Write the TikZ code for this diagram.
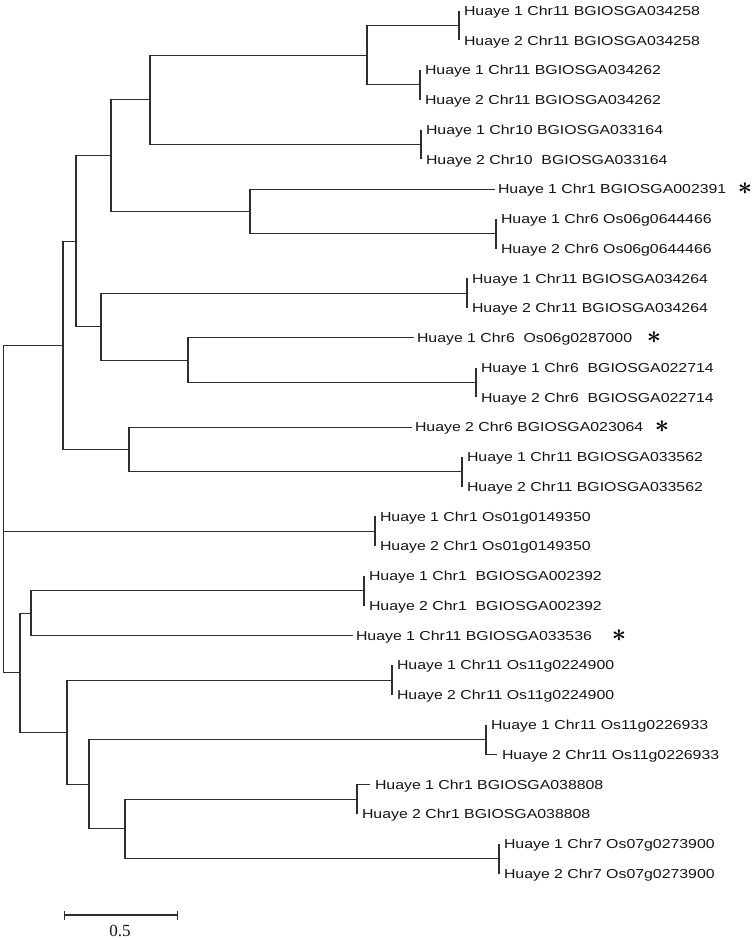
\documentclass[tikz,border=0pt]{standalone}
\usepackage{fontspec}
\setmainfont{Liberation Serif}
\newfontfamily\leaffont{Liberation Sans}[FakeStretch=1.22]
\usepackage{tikz}
\usetikzlibrary{arrows.meta}
\definecolor{TreeLine}{HTML}{2E2E2E}
\definecolor{TreeText}{HTML}{141414}

\begin{document}
\begin{tikzpicture}[
        x=1pt,y=-1pt,
        branch/.style={draw=TreeLine,line width=1.05pt},
        leaf/.style={anchor=west,inner xsep=5pt,inner ysep=0pt,outer sep=0pt,text height=9.4pt,text depth=0pt,text=TreeText,font=\leaffont\fontsize{13}{15}\selectfont},
        single/.style={leaf,inner xsep=3pt},
        flag/.style={inner sep=0pt,text=black,font=\fontsize{24}{28}\selectfont\boldmath}
      ]
        \useasboundingbox (0,0) rectangle (752,940);
        % leaves
        \node[leaf] (t258a) at (459,10.5) {Huaye 1 Chr11 BGIOSGA034258};
        \node[leaf] (t258b) at (459,40.3) {Huaye 2 Chr11 BGIOSGA034258};
        \node[leaf] (t262a) at (420,70.0) {Huaye 1 Chr11 BGIOSGA034262};
        \node[leaf] (t262b) at (420,99.8) {Huaye 2 Chr11 BGIOSGA034262};
        \node[leaf] (t164a) at (421,129.5) {Huaye 1 Chr10 BGIOSGA033164};
        \node[leaf] (t164b) at (421,159.3) {Huaye 2 Chr10~~BGIOSGA033164};
        \node[single] (t391) at (495,189.1) {Huaye 1 Chr1 BGIOSGA002391};
        \node[leaf] (t644a) at (496,218.8) {Huaye 1 Chr6 Os06g0644466};
        \node[leaf] (t644b) at (496,248.6) {Huaye 2 Chr6 Os06g0644466};
        \node[leaf] (t264a) at (467,278.3) {Huaye 1 Chr11 BGIOSGA034264};
        \node[leaf] (t264b) at (467,308.1) {Huaye 2 Chr11 BGIOSGA034264};
        \node[single] (t287) at (414,337.9) {Huaye 1 Chr6~~Os06g0287000};
        \node[leaf] (t714a) at (476,367.6) {Huaye 1 Chr6~~BGIOSGA022714};
        \node[leaf] (t714b) at (476,397.4) {Huaye 2 Chr6~~BGIOSGA022714};
        \node[single] (t064) at (412,427.1) {Huaye 2 Chr6 BGIOSGA023064};
        \node[leaf] (t562a) at (462,456.9) {Huaye 1 Chr11 BGIOSGA033562};
        \node[leaf] (t562b) at (462,486.7) {Huaye 2 Chr11 BGIOSGA033562};
        \node[leaf] (t149a) at (375,516.4) {Huaye 1 Chr1 Os01g0149350};
        \node[leaf] (t149b) at (375,546.2) {Huaye 2 Chr1 Os01g0149350};
        \node[leaf] (t392a) at (364,575.9) {Huaye 1 Chr1~~BGIOSGA002392};
        \node[leaf] (t392b) at (364,605.7) {Huaye 2 Chr1~~BGIOSGA002392};
        \node[single] (t536) at (353,635.5) {Huaye 1 Chr11 BGIOSGA033536};
        \node[leaf] (t224a) at (392,665.2) {Huaye 1 Chr11 Os11g0224900};
        \node[leaf] (t224b) at (392,695.0) {Huaye 2 Chr11 Os11g0224900};
        \node[leaf] (t226a) at (486,724.7) {Huaye 1 Chr11 Os11g0226933};
        \node[leaf] (t226b) at (497,754.5) {Huaye 2 Chr11 Os11g0226933};
        \node[leaf] (t808a) at (370,784.3) {Huaye 1 Chr1 BGIOSGA038808};
        \node[leaf] (t808b) at (357,814.0) {Huaye 2 Chr1 BGIOSGA038808};
        \node[leaf] (t273a) at (499,843.8) {Huaye 1 Chr7 Os07g0273900};
        \node[leaf] (t273b) at (499,873.5) {Huaye 2 Chr7 Os07g0273900};
        % marked genes
        \node[flag] (s391) at (745,189.1) {$\ast$};
        \node[flag] (s287) at (654,337.9) {$\ast$};
        \node[flag] (s064) at (662,427.1) {$\ast$};
        \node[flag] (s536) at (619,635.5) {$\ast$};
        % pairs
        \coordinate (c258) at (459,25.4);
        \coordinate (c262) at (420,84.9);
        \coordinate (c164) at (421,144.4);
        \coordinate (c644) at (496,233.7);
        \coordinate (c264) at (467,293.2);
        \coordinate (c714) at (476,382.5);
        \coordinate (c562) at (462,471.8);
        \coordinate (c149) at (375,531.3);
        \coordinate (c392) at (364,590.8);
        \coordinate (c224) at (392,680.1);
        \coordinate (c226) at (486,739.6);
        \coordinate (c808) at (357,799.1);
        \coordinate (c273) at (499,858.7);
        % inner nodes
        \coordinate (na) at (367,55.1);
        \coordinate (nb) at (150,99.8);
        \coordinate (nc) at (250,211.4);
        \coordinate (nd) at (111,155.6);
        \coordinate (ne) at (188,360.2);
        \coordinate (nf) at (101,326.7);
        \coordinate (ng) at (76,241.2);
        \coordinate (nh) at (129,449.5);
        \coordinate (ni) at (63,345.3);
        \coordinate (nj) at (31,613.1);
        \coordinate (nk) at (125,828.9);
        \coordinate (nl) at (89,784.3);
        \coordinate (nm) at (67,732.2);
        \coordinate (nn) at (20,672.7);
        \coordinate (root) at (3.5,531.3);
        % branches
        \draw[branch] (c258) |- (t258a) (c258) |- (t258b);
        \draw[branch] (c262) |- (t262a) (c262) |- (t262b);
        \draw[branch] (c164) |- (t164a) (c164) |- (t164b);
        \draw[branch] (c644) |- (t644a) (c644) |- (t644b);
        \draw[branch] (c264) |- (t264a) (c264) |- (t264b);
        \draw[branch] (c714) |- (t714a) (c714) |- (t714b);
        \draw[branch] (c562) |- (t562a) (c562) |- (t562b);
        \draw[branch] (c149) |- (t149a) (c149) |- (t149b);
        \draw[branch] (c392) |- (t392a) (c392) |- (t392b);
        \draw[branch] (c224) |- (t224a) (c224) |- (t224b);
        \draw[branch] (c226) |- (t226a) (c226) |- (t226b);
        \draw[branch] (c808) |- (t808a) (c808) |- (t808b);
        \draw[branch] (c273) |- (t273a) (c273) |- (t273b);
        \draw[branch] (na) |- (c258) (na) |- (c262);
        \draw[branch] (nb) |- (na) (nb) |- (c164);
        \draw[branch] (nc) |- (t391) (nc) |- (c644);
        \draw[branch] (nd) |- (nb) (nd) |- (nc);
        \draw[branch] (ne) |- (t287) (ne) |- (c714);
        \draw[branch] (nf) |- (c264) (nf) |- (ne);
        \draw[branch] (ng) |- (nd) (ng) |- (nf);
        \draw[branch] (nh) |- (t064) (nh) |- (c562);
        \draw[branch] (ni) |- (ng) (ni) |- (nh);
        \draw[branch] (nj) |- (c392) (nj) |- (t536);
        \draw[branch] (nk) |- (c808) (nk) |- (c273);
        \draw[branch] (nl) |- (c226) (nl) |- (nk);
        \draw[branch] (nm) |- (c224) (nm) |- (nl);
        \draw[branch] (nn) |- (nj) (nn) |- (nm);
        \draw[branch] (root) |- (ni) (root) -- (c149) (root) |- (nn);
        % scale
        \coordinate (sbl) at (64,915);
        \coordinate (sbr) at (178,915);
        \draw[branch,{Bar[width=9pt]}-{Bar[width=9pt]}] (sbl) -- (sbr);
        \node[font=\fontsize{17}{20}\selectfont,text=TreeText] (scalelab) at (120,931) {0.5};
      \end{tikzpicture}
\end{document}
